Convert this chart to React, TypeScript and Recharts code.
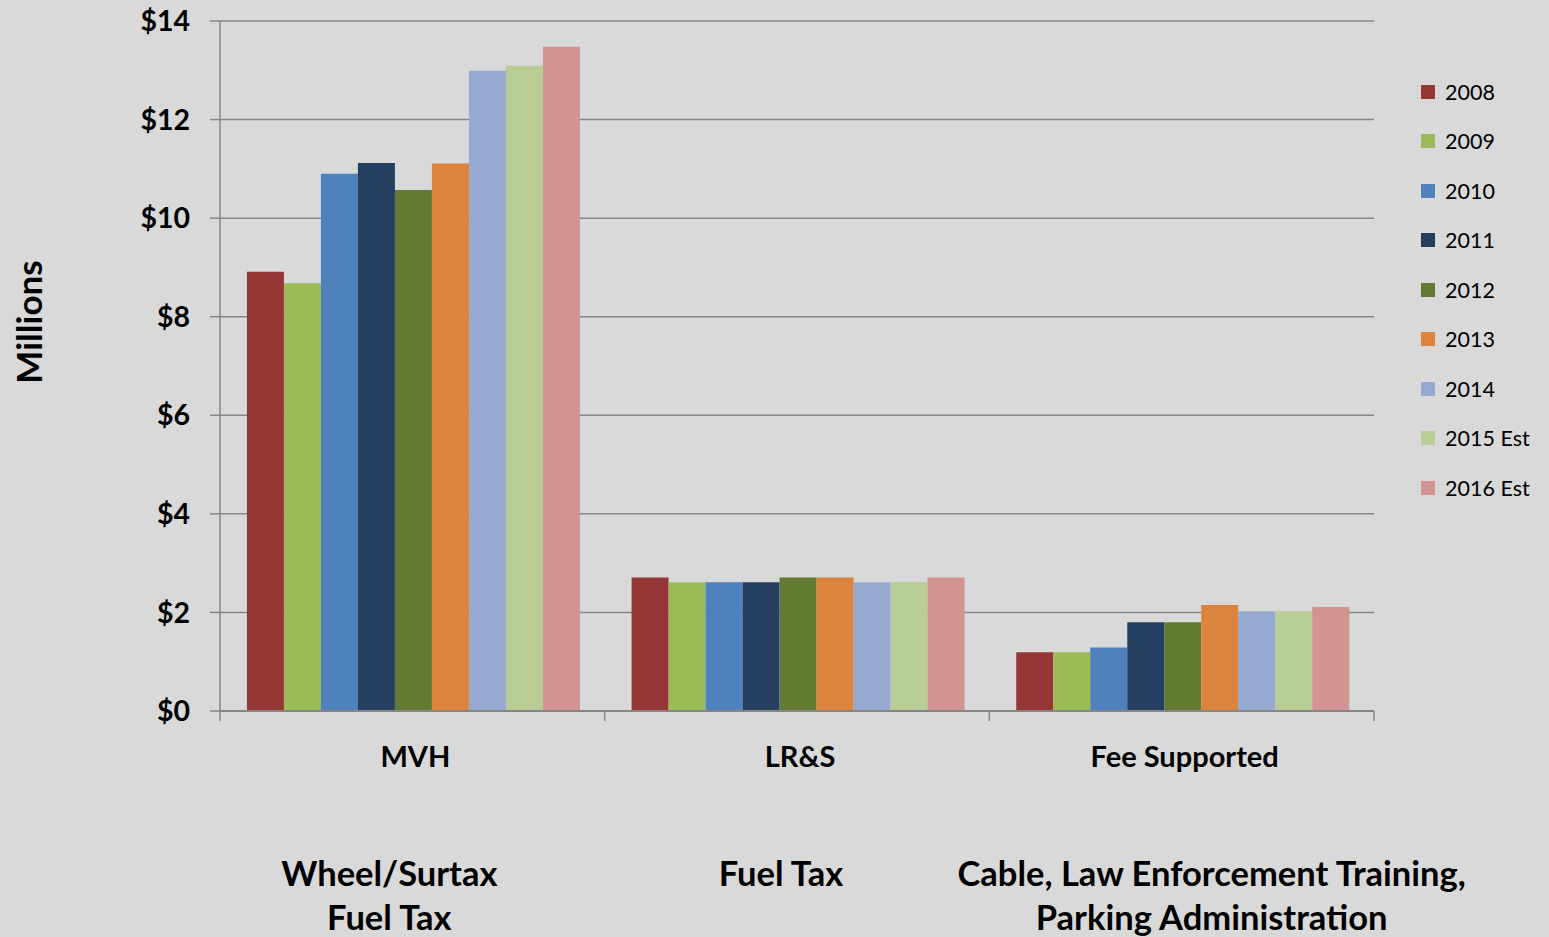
import { BarChart, Bar, XAxis, YAxis, CartesianGrid, Label } from "recharts";

const categories = ["MVH", "LR&S", "Fee Supported"];
const subLabels = [
  ["Wheel/Surtax", "Fuel Tax"],
  ["Fuel Tax"],
  ["Cable, Law Enforcement Training,", "Parking Administration"],
];
const years = ["2008", "2009", "2010", "2011", "2012", "2013", "2014", "2015 Est", "2016 Est"];

// values in $ millions: MVH, LR&S, Fee Supported
const v2008 = [8.91, 2.71, 1.19];
const v2009 = [8.68, 2.61, 1.19];
const v2010 = [10.9, 2.61, 1.29];
const v2011 = [11.12, 2.61, 1.8];
const v2012 = [10.57, 2.71, 1.8];
const v2013 = [11.11, 2.71, 2.15];
const v2014 = [12.99, 2.61, 2.02];
const v2015 = [13.09, 2.61, 2.02];
const v2016 = [13.48, 2.71, 2.11];
const seriesValues = [v2008, v2009, v2010, v2011, v2012, v2013, v2014, v2015, v2016];

const yTicks = [0, 2, 4, 6, 8, 10, 12, 14];

const colors = ["#953735", "#9BBB59", "#4F81BD", "#243F60", "#637A33", "#DC843E", "#95A9D1", "#B9CE96", "#D29393"];

const W = 1549;
const H = 937;
const LEFT = 220;
const RIGHT = 175;
const BAND = (W - LEFT - RIGHT) / categories.length;
const SUB_DX = [-23, -16, 30];
const GRID = "#868686";
const FONT = "Lato, 'Liberation Sans', sans-serif";

const data = categories.map((c, i) => {
  const row: Record<string, string | number> = { name: c };
  years.forEach((y, j) => {
    row[y] = seriesValues[j][i];
  });
  return row;
});

const CategoryTick = (props: any) => {
  const { x, y, payload } = props;
  const i = categories.indexOf(payload.value);
  const lines = subLabels[i] || [];
  return (
    <g>
      <line x1={x - BAND / 2} x2={x - BAND / 2} y1={y} y2={y + 10} stroke={GRID} strokeWidth={1.5} />
      {i === categories.length - 1 && (
        <line x1={x + BAND / 2} x2={x + BAND / 2} y1={y} y2={y + 10} stroke={GRID} strokeWidth={1.5} />
      )}
      <text x={x + 3} y={y + 56} textAnchor="middle" fontFamily={FONT} fontWeight={700} fontSize={29} fill="#000">
        {payload.value}
      </text>
      {lines.map((l, k) => (
        <text
          key={k}
          x={x + SUB_DX[i]}
          y={y + 175 + k * 44}
          textAnchor="middle"
          fontFamily={FONT}
          fontWeight={700}
          fontSize={34.5}
          fill="#000"
        >
          {l}
        </text>
      ))}
    </g>
  );
};

const LegendBox = () => (
  <div
    style={{
      position: "absolute",
      left: 1421,
      top: 67,
      width: 128,
      fontFamily: FONT,
      fontSize: 21.5,
      color: "#000",
    }}
  >
    {years.map((y, j) => (
      <div key={y} style={{ height: 49.5, display: "flex", alignItems: "center" }}>
        <span style={{ width: 14, height: 14, background: colors[j], display: "inline-block", marginRight: 10 }} />
        <span>{y}</span>
      </div>
    ))}
  </div>
);

export default function App() {
  return (
    <div style={{ position: "fixed", left: 0, top: 0, width: W, height: H, background: "#D9D9D9" }}>
      <BarChart
        width={W}
        height={H}
        data={data}
        margin={{ top: 21, right: RIGHT, bottom: 6, left: 0 }}
        barCategoryGap="7%"
        barGap={0}
      >
        <CartesianGrid vertical={false} stroke={GRID} strokeWidth={1.5} />
        <XAxis
          dataKey="name"
          height={220}
          tickSize={0}
          tickMargin={0}
          tickLine={false}
          axisLine={{ stroke: GRID, strokeWidth: 2 }}
          tick={<CategoryTick />}
          interval={0}
        />
        <YAxis
          width={LEFT}
          domain={[0, 14]}
          ticks={yTicks}
          tickSize={10}
          tickMargin={20}
          tickLine={{ stroke: GRID, strokeWidth: 1.5 }}
          axisLine={{ stroke: GRID, strokeWidth: 1.5 }}
          tickFormatter={(v: number) => `$${v}`}
          tick={{ fontFamily: FONT, fontWeight: 700, fontSize: 28.5, fill: "#000" }}
        >
          <Label
            content={() => (
              <text
                x={28}
                y={322}
                transform="rotate(-90, 28, 322)"
                textAnchor="middle"
                dominantBaseline="central"
                fontFamily={FONT}
                fontWeight={700}
                fontSize={35}
                fill="#000"
              >
                Millions
              </text>
            )}
          />
        </YAxis>
        {years.map((y, j) => (
          <Bar key={y} dataKey={y} fill={colors[j]} isAnimationActive={false} />
        ))}
      </BarChart>
      <LegendBox />
    </div>
  );
}
